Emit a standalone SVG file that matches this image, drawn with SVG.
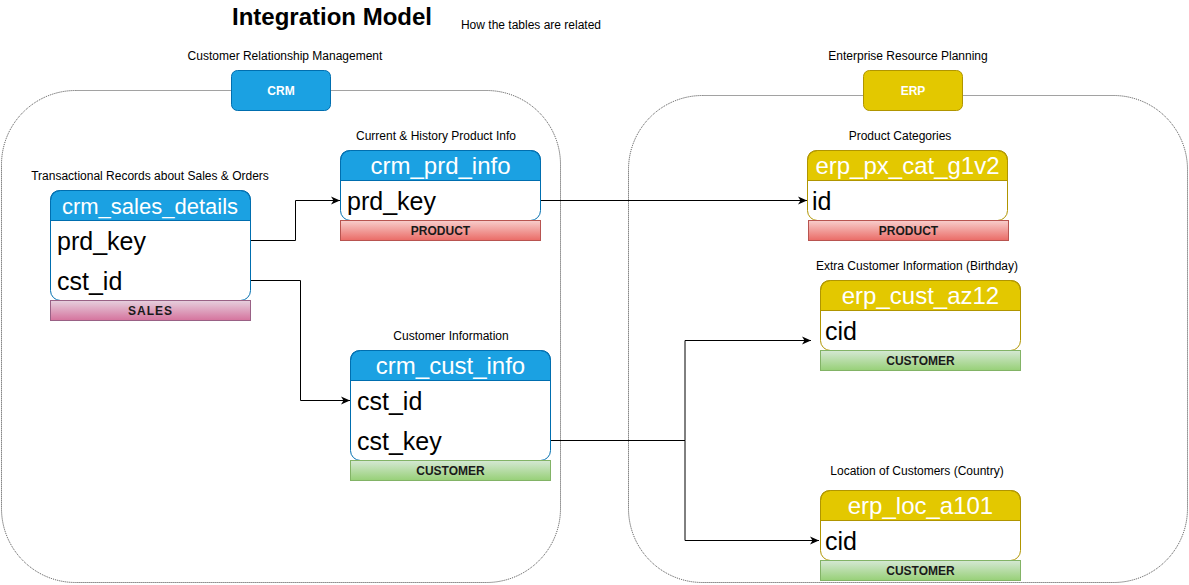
<svg xmlns="http://www.w3.org/2000/svg" width="1189" height="585" viewBox="0 0 1189 585">
  <defs>
    <linearGradient id="gProd" x1="0" y1="0" x2="0" y2="1"><stop offset="0" stop-color="#f8cecc"/><stop offset="1" stop-color="#ea6b66"/></linearGradient>
    <linearGradient id="gCust" x1="0" y1="0" x2="0" y2="1"><stop offset="0" stop-color="#d5e8d4"/><stop offset="1" stop-color="#97d077"/></linearGradient>
    <linearGradient id="gSales" x1="0" y1="0" x2="0" y2="1"><stop offset="0" stop-color="#e6d0de"/><stop offset="1" stop-color="#d5739d"/></linearGradient>
    <marker id="arr" markerUnits="userSpaceOnUse" markerWidth="10" markerHeight="10" refX="9" refY="4.5" orient="auto">
      <path d="M0,0.5 L9,4.5 L0,8.5 L2.5,4.5 Z" fill="#000"/>
    </marker>
    <style>
      text { font-family: "Liberation Sans", Arial, Helvetica, sans-serif; }
      .lbl { font-size: 12px; fill: #000; text-anchor: middle; }
      .hdr { font-size: 24px; fill: #fff; text-anchor: middle; }
      .row { font-size: 25px; fill: #000; }
      .bar { font-size: 12px; font-weight: bold; fill: #1a1a1a; text-anchor: middle; }
      .grp { font-size: 12px; font-weight: bold; fill: #fff; text-anchor: middle; }
      .cont { fill: none; stroke: #444; stroke-width: 1; stroke-dasharray: 1 1; }
      .conn { fill: none; stroke: #000; stroke-width: 1; marker-end: url(#arr); }
      .body { fill: none; stroke-width: 1; }
      .crm .hfill { fill: #1ba1e2; stroke: #006eaf; }
      .crm .body, .crm .sep { stroke: #006eaf; }
      .erp .hfill { fill: #e3c800; stroke: #b09500; }
      .erp .body, .erp .sep { stroke: #b09500; }
      .pbar { fill: url(#gProd); stroke: #b85450; }
      .cbar { fill: url(#gCust); stroke: #82b366; }
      .sbar { fill: url(#gSales); stroke: #996185; }
    </style>
  </defs>

  <rect width="1189" height="585" fill="#fff"/>

  <g id="title">
    <text x="332" y="25" style="font-size:24px;font-weight:bold;text-anchor:middle">Integration Model</text>
    <text x="531" y="29" class="lbl">How the tables are related</text>
  </g>

  <g id="containers">
    <rect class="cont" x="1.5" y="90.5" width="559" height="492" rx="74" ry="74"/>
    <rect class="cont" x="628.5" y="95.5" width="559" height="487" rx="74" ry="74"/>
  </g>

  <g id="crm-group">
    <text x="285" y="60" class="lbl">Customer Relationship Management</text>
    <rect x="231.5" y="70.5" width="99" height="40" rx="6" fill="#1ba1e2" stroke="#006eaf"/>
    <text x="281" y="95" class="grp">CRM</text>
  </g>

  <g id="erp-group">
    <text x="908" y="60" class="lbl">Enterprise Resource Planning</text>
    <rect x="863.5" y="70.5" width="99" height="40" rx="6" fill="#e3c800" stroke="#b09500"/>
    <text x="913" y="95" class="grp">ERP</text>
  </g>

  <g id="connectors">
    <path class="conn" d="M250,240.5 H295.5 V200.5 H340"/>
    <path class="conn" d="M250,280.5 H300.5 V400.5 H350"/>
    <path class="conn" d="M540,200.5 H807"/>
    <path class="conn" d="M550,440.5 H685 V340.5 H811"/>
    <path class="conn" d="M550,440.5 H685 V540.5 H819"/>
  </g>

  <g id="crm_sales_details" class="crm">
    <text x="150" y="180" class="lbl">Transactional Records about Sales &amp; Orders</text>
    <rect x="50.5" y="190.5" width="200" height="110" rx="10" fill="#fff"/>
    <path class="hfill" d="M50.5,220.5 V200.5 Q50.5,190.5 60.5,190.5 H240.5 Q250.5,190.5 250.5,200.5 V220.5 Z"/>
    <rect class="body" x="50.5" y="190.5" width="200" height="110" rx="10"/>
    <text x="150" y="214" class="hdr" style="font-size:22px">crm_sales_details</text>
    <text x="57" y="250" class="row">prd_key</text>
    <text x="57" y="290" class="row">cst_id</text>
    <rect class="sbar" x="50.5" y="300.5" width="200" height="20"/>
    <text x="150.5" y="315" class="bar" style="letter-spacing:1px">SALES</text>
  </g>

  <g id="crm_prd_info" class="crm">
    <text x="436" y="140" class="lbl">Current &amp; History Product Info</text>
    <rect x="340.5" y="150.5" width="200" height="70" rx="10" fill="#fff"/>
    <path class="hfill" d="M340.5,180.5 V160.5 Q340.5,150.5 350.5,150.5 H530.5 Q540.5,150.5 540.5,160.5 V180.5 Z"/>
    <rect class="body" x="340.5" y="150.5" width="200" height="70" rx="10"/>
    <text x="440.5" y="174" class="hdr">crm_prd_info</text>
    <text x="347" y="210" class="row">prd_key</text>
    <rect class="pbar" x="340.5" y="220.5" width="200" height="20"/>
    <text x="440.5" y="235" class="bar">PRODUCT</text>
  </g>

  <g id="crm_cust_info" class="crm">
    <text x="451" y="340" class="lbl">Customer  Information</text>
    <rect x="350.5" y="350.5" width="200" height="110" rx="10" fill="#fff"/>
    <path class="hfill" d="M350.5,380.5 V360.5 Q350.5,350.5 360.5,350.5 H540.5 Q550.5,350.5 550.5,360.5 V380.5 Z"/>
    <rect class="body" x="350.5" y="350.5" width="200" height="110" rx="10"/>
    <text x="450.5" y="374" class="hdr">crm_cust_info</text>
    <text x="357" y="410" class="row">cst_id</text>
    <text x="357" y="450" class="row">cst_key</text>
    <rect class="cbar" x="350.5" y="460.5" width="200" height="20"/>
    <text x="450.5" y="475" class="bar">CUSTOMER</text>
  </g>

  <g id="erp_px_cat_g1v2" class="erp">
    <text x="900" y="140" class="lbl">Product Categories</text>
    <rect x="807.5" y="150.5" width="200" height="70" rx="10" fill="#fff"/>
    <path class="hfill" d="M807.5,180.5 V160.5 Q807.5,150.5 817.5,150.5 H997.5 Q1007.5,150.5 1007.5,160.5 V180.5 Z"/>
    <rect class="body" x="807.5" y="150.5" width="200" height="70" rx="10"/>
    <text x="907.5" y="174" class="hdr">erp_px_cat_g1v2</text>
    <text x="812" y="210" class="row">id</text>
    <rect class="pbar" x="808.5" y="220.5" width="200" height="20"/>
    <text x="908.5" y="235" class="bar">PRODUCT</text>
  </g>

  <g id="erp_cust_az12" class="erp">
    <text x="917" y="270" class="lbl">Extra Customer Information (Birthday)</text>
    <rect x="820.5" y="280.5" width="200" height="70" rx="10" fill="#fff"/>
    <path class="hfill" d="M820.5,310.5 V290.5 Q820.5,280.5 830.5,280.5 H1010.5 Q1020.5,280.5 1020.5,290.5 V310.5 Z"/>
    <rect class="body" x="820.5" y="280.5" width="200" height="70" rx="10"/>
    <text x="920.5" y="304" class="hdr">erp_cust_az12</text>
    <text x="825" y="340" class="row">cid</text>
    <rect class="cbar" x="820.5" y="350.5" width="200" height="20"/>
    <text x="920.5" y="365" class="bar">CUSTOMER</text>
  </g>

  <g id="erp_loc_a101" class="erp">
    <text x="917" y="475" class="lbl">Location of Customers (Country)</text>
    <rect x="820.5" y="490.5" width="200" height="70" rx="10" fill="#fff"/>
    <path class="hfill" d="M820.5,520.5 V500.5 Q820.5,490.5 830.5,490.5 H1010.5 Q1020.5,490.5 1020.5,500.5 V520.5 Z"/>
    <rect class="body" x="820.5" y="490.5" width="200" height="70" rx="10"/>
    <text x="920.5" y="514" class="hdr">erp_loc_a101</text>
    <text x="825" y="550" class="row">cid</text>
    <rect class="cbar" x="820.5" y="560.5" width="200" height="20"/>
    <text x="920.5" y="575" class="bar">CUSTOMER</text>
  </g>
</svg>
